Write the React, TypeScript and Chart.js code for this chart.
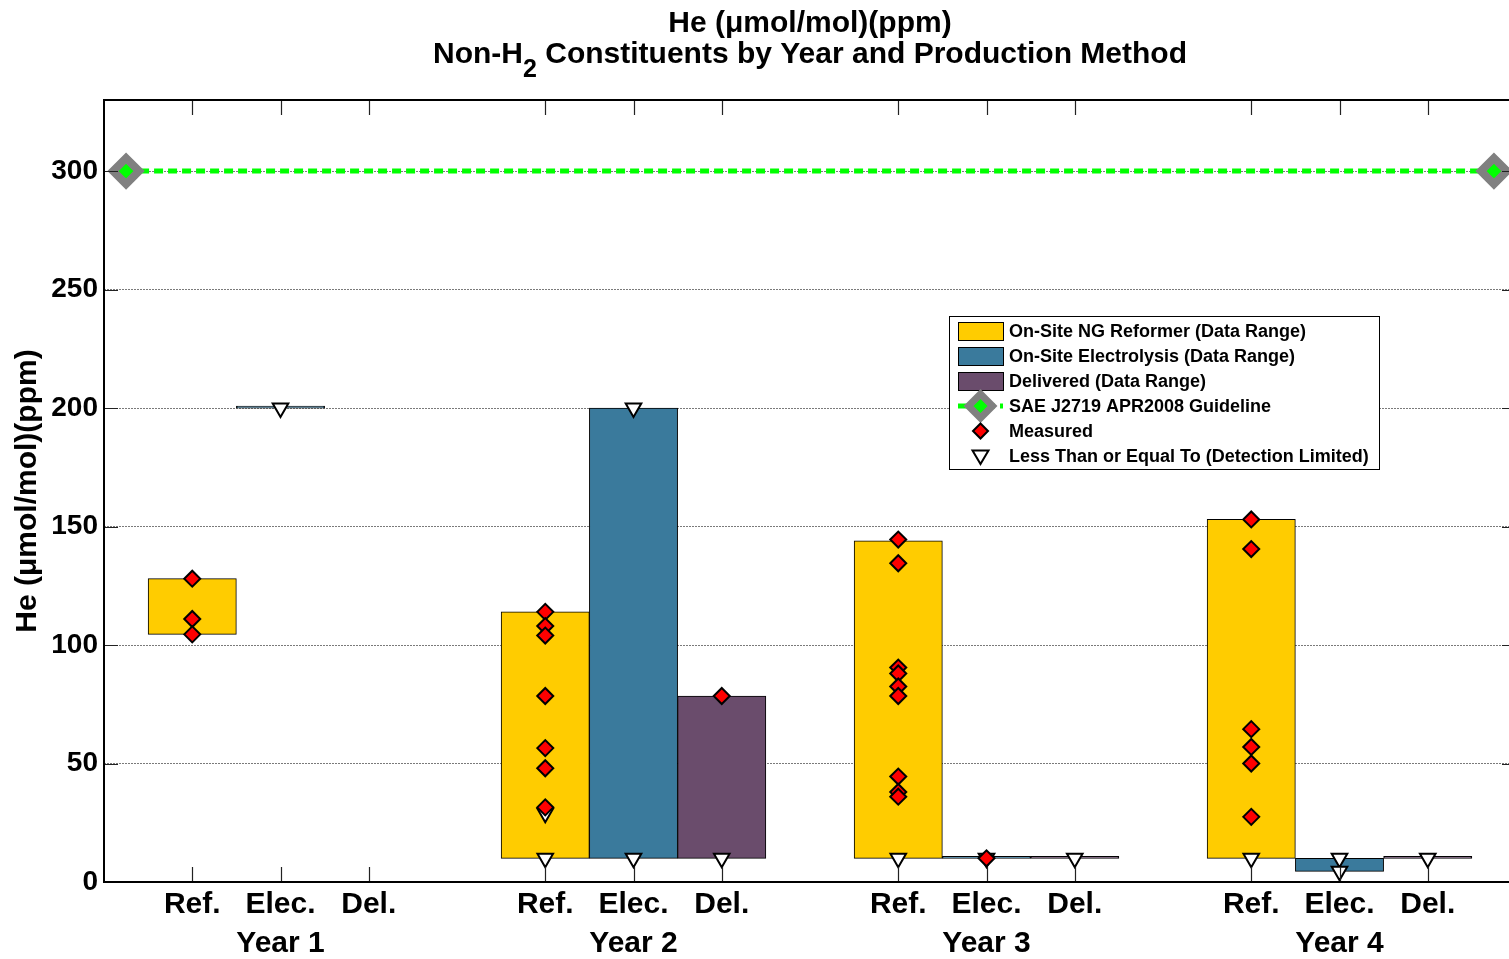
import React, { useEffect, useRef } from 'react';
import { Chart, registerables } from 'chart.js';

Chart.register(...registerables);

// ---------------- data ----------------
const years = ['Year 1', 'Year 2', 'Year 3', 'Year 4'];
const methods = ['Ref.', 'Elec.', 'Del.'];
const methodNames = [
  'On-Site NG Reformer (Data Range)',
  'On-Site Electrolysis (Data Range)',
  'Delivered (Data Range)',
];
const methodColors = ['#FFCC00', '#3A7A9C', '#6A4C6C'];

// data ranges (low / high) per year
const refLow = [104.5, 10, 10, 10];
const refHigh = [128, 114, 144, 153];
const elecLow = [200, 10, 10, 4.5];
const elecHigh = [200, 200, 10, 10];
const delLow: (number | null)[] = [null, 10, 10, 10];
const delHigh: (number | null)[] = [null, 78.5, 10, 10];

// measured values (red diamonds) per year
const refMeasured = [
  [128, 111, 104.5],
  [114, 108, 104, 78.5, 56.5, 48, 31.5],
  [144.5, 134.5, 90.5, 88, 82.5, 78.5, 44.5, 38, 36],
  [153, 140.5, 64.5, 57, 50, 27.5],
];
const elecMeasured = [[], [], [10], []];
const delMeasured = [[], [78.5], [], []];

// detection limited values (white down triangles) per year
const refLimited = [[], [29, 10], [10], [10]];
const elecLimited = [[200], [200, 10], [10], [10, 4.5]];
const delLimited = [[], [10], [10], [10]];

// guideline
const guidelineValue = 300;
const guidelineStart = 0.25;
const guidelineEnd = 15.75;
const guidelineName = 'SAE J2719 APR2008 Guideline';

const yTicks = [0, 50, 100, 150, 200, 250, 300];
const yMax = 330;
const xMax = 16;
const slotsPerYear = 4;

const titleLine1 = 'He (\u03BCmol/mol)(ppm)';
const titleLine2a = 'Non-H';
const titleLine2sub = '2';
const titleLine2b = ' Constituents by Year and Production Method';
const yTitle = 'He (\u03BCmol/mol)(ppm)';

// ---------------- helpers ----------------
const pos = (yearIdx: number, methodIdx: number) => yearIdx * slotsPerYear + methodIdx + 1;
const xPositions: number[] = [];
years.forEach((_, i) => methods.forEach((__, j) => xPositions.push(pos(i, j))));

const lows = [refLow, elecLow, delLow];
const highs = [refHigh, elecHigh, delHigh];
const measured = [refMeasured, elecMeasured, delMeasured];
const limited = [refLimited, elecLimited, delLimited];

const FONT = '"Liberation Sans", Arial, sans-serif';

const barDatasets = methods.map((_, j) => ({
  type: 'bar' as const,
  label: methodNames[j],
  data: years
    .map((__, i) =>
      lows[j][i] == null ? null : { x: pos(i, j), y: [lows[j][i] as number, highs[j][i] as number] }
    )
    .filter((d) => d !== null),
  backgroundColor: methodColors[j],
  borderColor: '#000000',
  borderWidth: 1,
  borderSkipped: false as const,
  minBarLength: 2,
  grouped: false,
  barPercentage: 1,
  categoryPercentage: 1,
  order: 5,
}));

const measuredPoints: { x: number; y: number }[] = [];
const limitedPoints: { x: number; y: number }[] = [];
methods.forEach((_, j) =>
  years.forEach((__, i) => {
    measured[j][i].forEach((v: number) => measuredPoints.push({ x: pos(i, j), y: v }));
    limited[j][i].forEach((v: number) => limitedPoints.push({ x: pos(i, j), y: v }));
  })
);

// ---------------- plugins ----------------
const framePlugin = {
  id: 'frame',
  afterDatasetsDraw(chart: any) {
    const { ctx, chartArea, scales } = chart;
    const { left, right, top, bottom } = chartArea;
    const x = scales.x;
    const y = scales.y;
    ctx.save();
    ctx.strokeStyle = '#222';
    ctx.lineWidth = 1.2;
    ctx.beginPath();
    x.ticks.forEach((t: any) => {
      const px = Math.round(x.getPixelForValue(t.value)) + 0.5;
      ctx.moveTo(px, bottom);
      ctx.lineTo(px, bottom - 15);
      ctx.moveTo(px, top);
      ctx.lineTo(px, top + 15);
    });
    y.ticks.forEach((t: any) => {
      const py = Math.round(y.getPixelForValue(t.value)) + 0.5;
      ctx.moveTo(left, py);
      ctx.lineTo(left + 14, py);
      ctx.moveTo(right, py);
      ctx.lineTo(right - 14, py);
    });
    ctx.stroke();
    ctx.strokeStyle = '#000';
    ctx.lineWidth = 2;
    ctx.strokeRect(left, top, right - left, bottom - top);
    ctx.restore();
  },
};

const titlePlugin = {
  id: 'customTitle',
  afterDraw(chart: any) {
    const { ctx, chartArea } = chart;
    const cx = (chartArea.left + chartArea.right) / 2;
    const mainFont = `bold 30px ${FONT}`;
    const subFont = `bold 25px ${FONT}`;
    ctx.save();
    ctx.fillStyle = '#000';
    ctx.textBaseline = 'middle';
    ctx.font = mainFont;
    ctx.textAlign = 'center';
    ctx.fillText(titleLine1, cx, 24);
    const wA = ctx.measureText(titleLine2a).width;
    const wB = ctx.measureText(titleLine2b).width;
    ctx.font = subFont;
    const wS = ctx.measureText(titleLine2sub).width;
    const total = wA + wS + wB;
    let sx = cx - total / 2;
    ctx.textAlign = 'left';
    ctx.font = mainFont;
    ctx.fillText(titleLine2a, sx, 55);
    sx += wA;
    ctx.font = subFont;
    ctx.fillText(titleLine2sub, sx, 70);
    sx += wS;
    ctx.font = mainFont;
    ctx.fillText(titleLine2b, sx, 55);
    ctx.restore();
  },
};

function diamond(ctx: CanvasRenderingContext2D, x: number, y: number, r: number) {
  ctx.beginPath();
  ctx.moveTo(x, y - r);
  ctx.lineTo(x + r, y);
  ctx.lineTo(x, y + r);
  ctx.lineTo(x - r, y);
  ctx.closePath();
}

const legendPlugin = {
  id: 'customLegend',
  afterDraw(chart: any) {
    const { ctx } = chart;
    const bx = 949;
    const by = 316;
    const bw = 430;
    const bh = 153;
    ctx.save();
    ctx.fillStyle = '#fff';
    ctx.fillRect(bx, by, bw, bh);
    ctx.strokeStyle = '#000';
    ctx.lineWidth = 1;
    ctx.strokeRect(bx + 0.5, by + 0.5, bw, bh);
    const rowY = (k: number) => by + 15 + k * 25;
    const sx = bx + 9;
    const sw = 45;
    const tx = bx + 60;
    ctx.font = `bold 18px ${FONT}`;
    ctx.textBaseline = 'middle';
    ctx.textAlign = 'left';
    methodNames.forEach((name, j) => {
      const yy = rowY(j);
      ctx.fillStyle = methodColors[j];
      ctx.fillRect(sx, yy - 9, sw, 18);
      ctx.strokeStyle = '#000';
      ctx.lineWidth = 1;
      ctx.strokeRect(sx + 0.5, yy - 9 + 0.5, sw, 18);
      ctx.fillStyle = '#000';
      ctx.fillText(name, tx, yy + 1);
    });
    // guideline
    let yy = rowY(3);
    ctx.strokeStyle = '#00FF00';
    ctx.lineWidth = 5;
    ctx.setLineDash([9, 5]);
    ctx.beginPath();
    ctx.moveTo(sx, yy);
    ctx.lineTo(sx + sw, yy);
    ctx.stroke();
    ctx.setLineDash([]);
    diamond(ctx, sx + sw / 2, yy, 12);
    ctx.fillStyle = '#00FF00';
    ctx.fill();
    ctx.strokeStyle = '#808080';
    ctx.lineWidth = 7;
    ctx.stroke();
    ctx.fillStyle = '#000';
    ctx.fillText(guidelineName, tx, yy + 1);
    // measured
    yy = rowY(4);
    diamond(ctx, sx + sw / 2, yy, 7.5);
    ctx.fillStyle = '#FF0000';
    ctx.fill();
    ctx.strokeStyle = '#000';
    ctx.lineWidth = 2;
    ctx.stroke();
    ctx.fillStyle = '#000';
    ctx.fillText('Measured', tx, yy + 1);
    // limited
    yy = rowY(5);
    const cx = sx + sw / 2;
    ctx.beginPath();
    ctx.moveTo(cx - 8, yy - 5.5);
    ctx.lineTo(cx + 8, yy - 5.5);
    ctx.lineTo(cx, yy + 8);
    ctx.closePath();
    ctx.fillStyle = '#fff';
    ctx.fill();
    ctx.strokeStyle = '#000';
    ctx.lineWidth = 2;
    ctx.stroke();
    ctx.fillStyle = '#000';
    ctx.fillText('Less Than or Equal To (Detection Limited)', tx, yy + 1);
    ctx.restore();
  },
};

// ---------------- component ----------------
export default function App() {
  const canvasRef = useRef<HTMLCanvasElement>(null);

  useEffect(() => {
    if (!canvasRef.current) return;
    const tickFont = { family: FONT, size: 30, weight: 'bold' as const, lineHeight: 1.3 };
    const chart = new Chart(canvasRef.current, {
      type: 'bar',
      data: {
        datasets: [
          ...barDatasets,
          {
            type: 'line' as const,
            label: guidelineName,
            data: [
              { x: guidelineStart, y: guidelineValue },
              { x: guidelineEnd, y: guidelineValue },
            ],
            borderColor: '#00FF00',
            borderWidth: 5,
            borderDash: [9, 5],
            pointStyle: 'rectRot',
            pointRadius: 13,
            pointBackgroundColor: '#00FF00',
            pointBorderColor: '#808080',
            pointBorderWidth: 8,
            order: 3,
          },
          {
            type: 'line' as const,
            label: 'Less Than or Equal To (Detection Limited)',
            data: limitedPoints,
            showLine: false,
            pointStyle: 'triangle',
            rotation: 180,
            pointRadius: 9,
            pointBackgroundColor: '#FFFFFF',
            pointBorderColor: '#000000',
            pointBorderWidth: 2,
            order: 2,
          },
          {
            type: 'line' as const,
            label: 'Measured',
            data: measuredPoints,
            showLine: false,
            pointStyle: 'rectRot',
            pointRadius: 8,
            pointBackgroundColor: '#FF0000',
            pointBorderColor: '#000000',
            pointBorderWidth: 2,
            order: 1,
          },
        ] as any,
      },
      options: {
        animation: false,
        responsive: false,
        devicePixelRatio: 1,
        events: [],
        layout: { autoPadding: false, padding: { top: 100, left: 0, right: 4, bottom: 0 } },
        plugins: {
          legend: { display: false },
          title: { display: false },
          tooltip: { enabled: false },
        },
        scales: {
          x: {
            type: 'linear',
            min: 0,
            max: xMax,
            offset: false,
            grid: { display: false, drawTicks: false, offset: false },
            border: { display: false },
            afterBuildTicks: (scale: any) => {
              scale.ticks = xPositions.map((v) => ({ value: v }));
            },
            afterFit: (scale: any) => {
              scale.height = 77;
              scale.paddingLeft = 0;
              scale.paddingRight = 0;
            },
            ticks: {
              autoSkip: false,
              maxRotation: 0,
              padding: 3,
              color: '#000',
              font: tickFont,
              callback: (value: any) => {
                const v = Number(value);
                const i = Math.floor((v - 1) / slotsPerYear);
                const j = (v - 1) % slotsPerYear;
                if (j === 1) return [methods[j], years[i]];
                return methods[j];
              },
            },
          },
          y: {
            type: 'linear',
            min: 0,
            max: yMax,
            afterBuildTicks: (scale: any) => {
              scale.ticks = yTicks.map((v) => ({ value: v }));
            },
            afterFit: (scale: any) => {
              scale.width = 104;
            },
            grid: { color: '#7a7a7a', lineWidth: 1, drawTicks: false },
            border: { display: false, dash: [2, 1] },
            ticks: { color: '#000', padding: 6, font: { family: FONT, size: 28, weight: 'bold' } },
            title: {
              display: true,
              text: yTitle,
              color: '#000',
              font: { family: FONT, size: 30, weight: 'bold' },
              padding: { top: 10, bottom: 0 },
            },
          },
        },
      } as any,
      plugins: [framePlugin, titlePlugin, legendPlugin],
    });
    return () => chart.destroy();
  }, []);

  return (
    <div
      style={{
        position: 'absolute',
        left: 0,
        top: 0,
        width: 1509,
        height: 959,
        overflow: 'hidden',
        background: '#fff',
      }}
    >
      <div style={{ width: 1540, height: 959 }}>
        <canvas
          ref={canvasRef}
          width={1520}
          height={959}
          style={{ display: 'block', width: 1520, height: 959 }}
        />
      </div>
    </div>
  );
}
